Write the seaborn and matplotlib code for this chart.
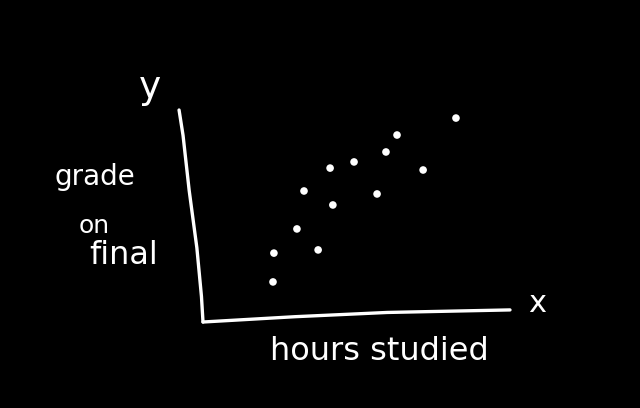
import matplotlib
matplotlib.use("Agg")
import matplotlib.pyplot as plt
import seaborn as sns
import pandas as pd

hours = [2.28, 2.31, 3.06, 3.75, 3.29, 4.23, 4.14, 4.92, 5.67, 5.96, 6.32, 7.17, 8.24]
grade = [18.9, 32.5, 43.9, 34.0, 61.8, 55.2, 72.6, 75.5, 60.4, 80.2, 88.2, 71.7, 96.2]
x_label = "hours studied"
y_label_lines = ["grade", "on", "final"]

df = pd.DataFrame({"hours": hours, "grade": grade})

sns.set_theme(style="white")
plt.rcParams['font.family'] = ['DejaVu Sans']

fig = plt.figure(figsize=(6.4, 4.08), dpi=100, facecolor="black")
W, H = 640, 408
left, right, top, bottom = 203, 510, 110, 322
ax = fig.add_axes([left / W, 1 - bottom / H, (right - left) / W, (bottom - top) / H])
ax.set_facecolor("black")

sns.scatterplot(data=df, x="hours", y="grade", ax=ax, color="white",
                s=30, edgecolor="none", legend=False)
ax.set_xlim(0, 10)
ax.set_ylim(0, 100)
for sp in ax.spines.values():
    sp.set_visible(False)
ax.set_xticks([])
ax.set_yticks([])
ax.set_xlabel("")
ax.set_ylabel("")

# hand-drawn axes lines
ax.plot([0, 0.3, 0.6, 1.0], [0, 0.025, 0.045, 0.057], transform=ax.transAxes,
        color="white", lw=2.4, clip_on=False, solid_capstyle="round")
ax.plot([0, -0.005, -0.02, -0.045, -0.065, -0.078],
        [0, 0.12, 0.35, 0.62, 0.88, 1.0], transform=ax.transAxes,
        color="white", lw=2.4, clip_on=False, solid_capstyle="round",
        solid_joinstyle="round")

def ft(px, py, s, size, **kw):
    fig.text(px / W, 1 - py / H, s, color="white", fontsize=size,
             ha="center", va="center", **kw)

ft(150, 88, "y", 27)
ft(95, 177, y_label_lines[0], 20)
ft(94, 226, y_label_lines[1], 18)
ft(124, 256, y_label_lines[2], 23)
ft(379, 351, x_label, 23)
ft(537, 303, "x", 22)

fig.savefig("out.png", dpi=100, facecolor="black")
